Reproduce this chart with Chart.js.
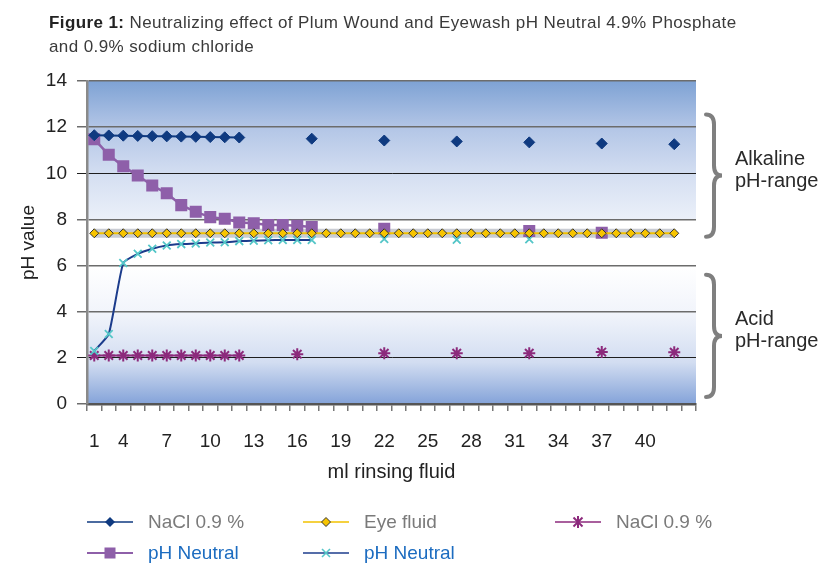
<!DOCTYPE html>
<html>
<head>
<meta charset="utf-8">
<script src="https://cdn.jsdelivr.net/npm/chart.js@4.4.1/dist/chart.umd.min.js"></script>
<style>
  html, body { margin: 0; padding: 0; background: #fff; }
  body { width: 821px; height: 563px; position: relative; overflow: hidden;
         font-family: "Liberation Sans", Arial, sans-serif; }
  #wrap { position: absolute; left: 0; top: 0; width: 821px; height: 563px; }
  .title { position: absolute; left: 49px; top: 11px; font-size: 17px; letter-spacing: 0.4px;
           line-height: 24px; color: #3a3a3a; }
  .title b { color: #222; }
  .note { position: absolute; left: 735px; font-size: 20px; line-height: 22px; color: #2a2a2a; }
  .legend { position: absolute; font-size: 19px; line-height: 22px; display: flex; align-items: center; }
  .legend svg { margin-right: 15px; }
  .grey { color: #7a7a7a; }
  .blue { color: #1c6cc0; }
</style>
</head>
<body>
<div id="wrap"><canvas id="chart" width="821" height="563"></canvas></div>

<div class="title"><b>Figure 1:</b> Neutralizing effect of Plum Wound and Eyewash pH Neutral 4.9% Phosphate<br>and 0.9% sodium chloride</div>

<div class="note" style="top:147px">Alkaline<br>pH-range</div>
<div class="note" style="top:307px">Acid<br>pH-range</div>

<div class="legend grey" style="left:87px; top:511px">
  <svg width="46" height="14"><line x1="0" y1="7" x2="46" y2="7" stroke="#0f3a80" stroke-width="1.6"/><path d="M23 2 L28 7 L23 12 L18 7 Z" fill="#0f3a80"/></svg>NaCl 0.9 %</div>
<div class="legend grey" style="left:303px; top:511px">
  <svg width="46" height="14"><line x1="0" y1="7" x2="46" y2="7" stroke="#f2c200" stroke-width="1.6"/><path d="M23 2.5 L27.5 7 L23 11.5 L18.5 7 Z" fill="#f7c400" stroke="#333" stroke-width="1"/></svg>Eye fluid</div>
<div class="legend grey" style="left:555px; top:511px">
  <svg width="46" height="14"><line x1="0" y1="7" x2="46" y2="7" stroke="#8c2a7c" stroke-width="1.6"/><g stroke="#8c2a7c" stroke-width="2"><line x1="23" y1="1" x2="23" y2="13"/><line x1="18.5" y1="2.5" x2="27.5" y2="11.5"/><line x1="27.5" y1="2.5" x2="18.5" y2="11.5"/></g></svg>NaCl 0.9 %</div>
<div class="legend blue" style="left:87px; top:542px">
  <svg width="46" height="14"><line x1="0" y1="7" x2="46" y2="7" stroke="#8e5fa9" stroke-width="1.8"/><rect x="17.5" y="1.5" width="11" height="11" fill="#8e5fa9"/></svg>pH Neutral</div>
<div class="legend blue" style="left:303px; top:542px">
  <svg width="46" height="14"><line x1="0" y1="7" x2="46" y2="7" stroke="#1c3c8c" stroke-width="1.6"/><g stroke="#55c6c8" stroke-width="1.6"><line x1="19" y1="3" x2="27" y2="11"/><line x1="27" y1="3" x2="19" y2="11"/></g></svg>pH Neutral</div>

<script>
  // ml of rinsing fluid, one category per ml
  const ML = [];
  for (let i = 1; i <= 42; i++) ML.push(String(i));

  // axis labels as printed under the figure (placed where they sit in the picture)
  const TICK_LABELS = ['1', '', '4', '', '', '7', '', '', '10', '', '', '13', '', '', '16', '', '', '19',
    '', '', '22', '', '', '25', '', '', '28', '', '', '31', '', '', '34', '', '', '37', '', '', '40', '', '', ''];

  const Y_TICKS = [0, 2, 4, 6, 8, 10, 12, 14];

  const naclHigh = [11.65, 11.64, 11.63, 11.62, 11.61, 11.6, 11.59, 11.58, 11.57, 11.56, 11.55,
    null, null, null, null, 11.5, null, null, null, null, 11.42, null, null, null, null, 11.38,
    null, null, null, null, 11.34, null, null, null, null, 11.29, null, null, null, null, 11.26, null];

  const eyeFluid = [7.4, 7.4, 7.4, 7.4, 7.4, 7.4, 7.4, 7.4, 7.4, 7.4, 7.4, 7.4, 7.4, 7.4,
    7.4, 7.4, 7.4, 7.4, 7.4, 7.4, 7.4, 7.4, 7.4, 7.4, 7.4, 7.4, 7.4, 7.4, 7.4, 7.4, 7.4,
    7.4, 7.4, 7.4, 7.4, 7.4, 7.4, 7.4, 7.4, 7.4, 7.4, null];

  const naclLow = [2.1, 2.1, 2.1, 2.1, 2.1, 2.1, 2.1, 2.1, 2.1, 2.1, 2.1,
    null, null, null, 2.16, null, null, null, null, null, 2.2, null, null, null, null, 2.2,
    null, null, null, null, 2.2, null, null, null, null, 2.25, null, null, null, null, 2.24, null];

  const phNeutralSq = [11.48, 10.8, 10.3, 9.9, 9.47, 9.13, 8.62, 8.33, 8.1, 8.03, 7.87, 7.83,
    7.76, 7.76, 7.73, 7.67, null, null, null, null, 7.6, null, null, null, null, null,
    null, null, null, null, 7.5, null, null, null, null, 7.42, null, null, null, null, null, null];

  const phNeutralX = [2.3, 3.03, 6.11, 6.51, 6.73, 6.87, 6.93, 6.96, 7.0, 7.01, 7.06, 7.08,
    7.1, 7.11, 7.11, 7.11, null, null, null, null, 7.15, null, null, null, null, 7.12,
    null, null, null, null, 7.14, null, null, null, null, null, null, null, null, null, null, null];

  // --- background bands + curly brackets ---
  const plotDecor = {
    id: 'plotDecor',
    beforeDraw(chart) {
      const { ctx, chartArea: a, scales: { y } } = chart;
      const y14 = y.getPixelForValue(14), y8 = y.getPixelForValue(8);
      const y6 = y.getPixelForValue(6), y0 = y.getPixelForValue(0);
      ctx.save();
      let g = ctx.createLinearGradient(0, y14, 0, y8);
      g.addColorStop(0, '#7ea2d4');
      g.addColorStop(0.33, '#b2c5e6');
      g.addColorStop(0.7, '#d6e0f2');
      g.addColorStop(1, '#ebf0f9');
      ctx.fillStyle = g;
      ctx.fillRect(a.left, y14, a.right - a.left, y8 - y14);
      ctx.fillStyle = '#ffffff';
      ctx.fillRect(a.left, y8, a.right - a.left, y6 - y8);
      g = ctx.createLinearGradient(0, y6, 0, y0);
      g.addColorStop(0, '#ffffff');
      g.addColorStop(0.35, '#f1f4fb');
      g.addColorStop(0.7, '#d2ddf1');
      g.addColorStop(1, '#84a3d9');
      ctx.fillStyle = g;
      ctx.fillRect(a.left, y6, a.right - a.left, y0 - y6);
      ctx.restore();
    },
    afterDraw(chart) {
      const { ctx, scales: { y } } = chart;
      const brace = (hi, lo) => {
        const top = y.getPixelForValue(hi), bot = y.getPixelForValue(lo);
        const mid = (top + bot) / 2, x0 = 706, w = 8, r = 10;
        ctx.beginPath();
        ctx.moveTo(x0, top);
        ctx.quadraticCurveTo(x0 + w, top, x0 + w, top + r);
        ctx.lineTo(x0 + w, mid - r);
        ctx.quadraticCurveTo(x0 + w, mid, x0 + 2 * w, mid);
        ctx.quadraticCurveTo(x0 + w, mid, x0 + w, mid + r);
        ctx.lineTo(x0 + w, bot - r);
        ctx.quadraticCurveTo(x0 + w, bot, x0, bot);
        ctx.stroke();
      };
      ctx.save();
      ctx.strokeStyle = '#7f7f7f';
      ctx.lineWidth = 4;
      ctx.lineCap = 'round';
      brace(12.55, 7.25);
      brace(5.6, 0.3);
      ctx.restore();
    }
  };

  Chart.defaults.font.family = "'Liberation Sans', Arial, sans-serif";
  Chart.defaults.color = '#222';

  new Chart(document.getElementById('chart'), {
    type: 'line',
    data: {
      labels: ML,
      datasets: [
        {
          label: 'Eye fluid', data: eyeFluid, order: 0,
          borderColor: '#f2c200', borderWidth: 2,
          pointStyle: 'rectRot', pointRadius: 4.5, pointBackgroundColor: '#f7c400',
          pointBorderColor: '#333', pointBorderWidth: 1
        },
        {
          label: 'halo', data: eyeFluid, order: 5,
          borderColor: '#c9ccd3', borderWidth: 9, pointRadius: 0
        },
        {
          label: 'NaCl 0.9 %', data: naclHigh, order: 1,
          borderColor: '#0f3a80', borderWidth: 2,
          pointStyle: 'rectRot', pointRadius: 5.5, pointBackgroundColor: '#0f3a80',
          pointBorderColor: '#0f3a80', pointBorderWidth: 1
        },
        {
          label: 'pH Neutral', data: phNeutralSq, order: 2,
          borderColor: '#8e5fa9', borderWidth: 2.5,
          pointStyle: 'rect', pointRadius: 8.5, pointBackgroundColor: '#8e5fa9',
          pointBorderColor: '#8e5fa9', pointBorderWidth: 0
        },
        {
          label: 'pH Neutral', data: phNeutralX, order: 3,
          borderColor: '#1c3c8c', borderWidth: 2, tension: 0.15,
          pointStyle: 'crossRot', pointRadius: 5.5, pointBorderColor: '#55c6c8', pointBorderWidth: 1.8
        },
        {
          label: 'NaCl 0.9 %', data: naclLow, order: 4,
          borderColor: '#8c2a7c', borderWidth: 2,
          pointStyle: 'star', pointRadius: 6, pointBorderColor: '#8c2a7c', pointBorderWidth: 2
        }
      ]
    },
    options: {
      responsive: false,
      animation: false,
      spanGaps: false,
      layout: { padding: { left: 17, top: 81, right: 125, bottom: 73 } },
      plugins: { legend: { display: false }, tooltip: { enabled: false } },
      scales: {
        x: {
          offset: true,
          grid: { offset: true, drawOnChartArea: false, drawTicks: true, tickLength: 7, color: '#777', lineWidth: 1.5 },
          border: { color: '#555', width: 2.5 },
          ticks: {
            autoSkip: false, maxRotation: 0, padding: 19, color: '#222',
            font: { size: 19 },
            callback: (v, i) => TICK_LABELS[i]
          },
          title: { display: true, text: 'ml rinsing fluid', font: { size: 20 }, color: '#222', padding: { top: 0, bottom: 6 } },
          afterFit: (s) => { s.height = 86; }
        },
        y: {
          min: 0, max: 14,
          afterBuildTicks: (s) => { s.ticks = Y_TICKS.map(v => ({ value: v })); },
          grid: {
            tickLength: 10,
            color: (c) => (c.tick && (c.tick.value === 10 || c.tick.value === 2) ? '#1e1e1e' : '#6c6c6c'),
            lineWidth: (c) => (c.tick && (c.tick.value === 10 || c.tick.value === 2) ? 1 : 1.5)
          },
          border: { color: '#8a8a8a', width: 2.5 },
          ticks: { padding: 10, color: '#222', font: { size: 19 } },
          title: { display: true, text: 'pH value', font: { size: 19 }, color: '#222', padding: { top: 0, bottom: 6 } },
          afterFit: (s) => { s.width = 70; }
        }
      }
    },
    plugins: [plotDecor]
  });
</script>
</body>
</html>
